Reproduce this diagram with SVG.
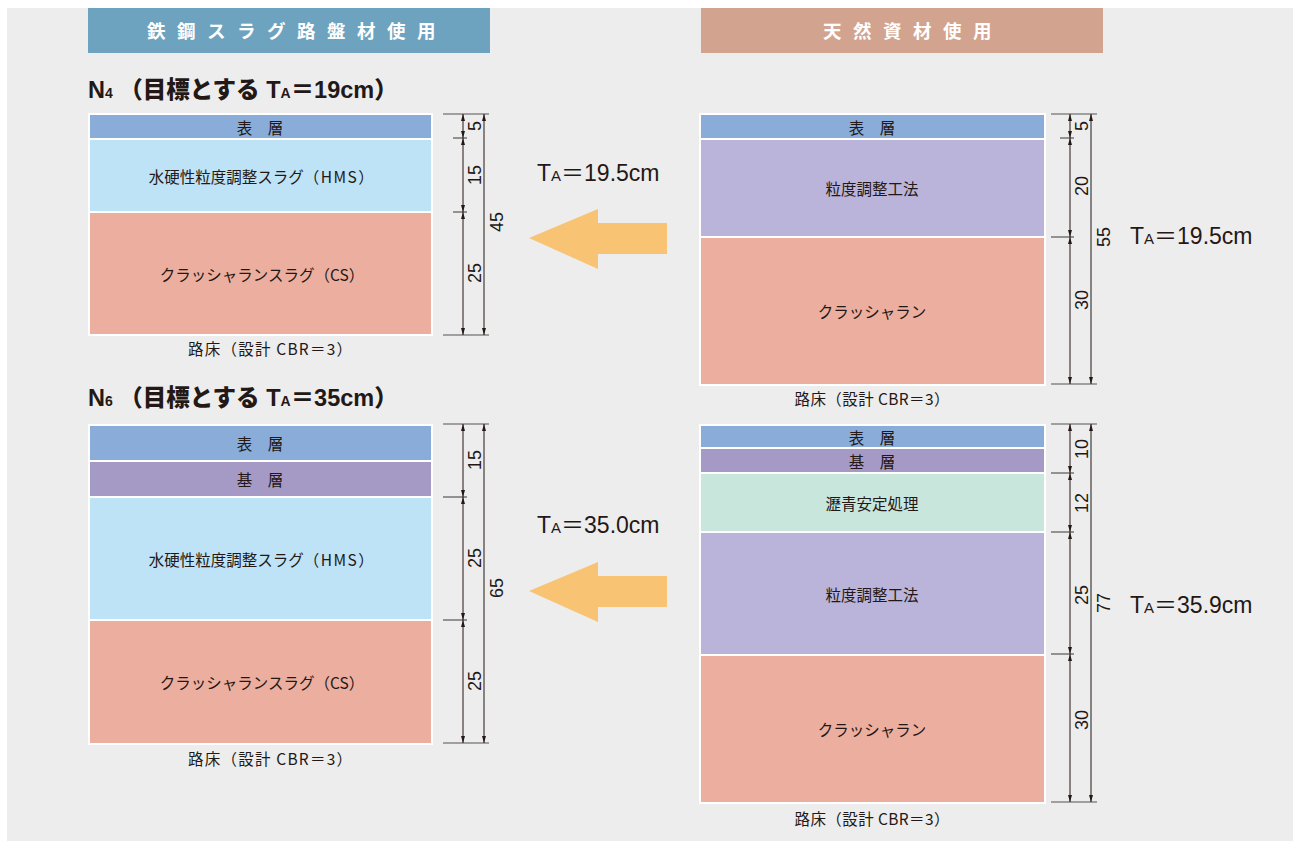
<svg xmlns="http://www.w3.org/2000/svg" width="1293" height="841" viewBox="0 0 1293 841">
<defs>
<marker id="ah" viewBox="0 0 7 4" refX="7" refY="2" markerWidth="7" markerHeight="4" markerUnits="userSpaceOnUse" orient="auto-start-reverse"><path d="M0,0 L7,2 L0,4 z" fill="#231815"/></marker>
<style>
.hd{font-family:"Noto Sans CJK JP",sans-serif;font-weight:700;font-size:18.5px;fill:#fff;letter-spacing:11.5px}
.tt{font-family:"Liberation Sans","Noto Sans CJK JP",sans-serif;font-weight:900;font-size:23.5px;fill:#231815}
.lb{font-family:"Noto Sans CJK JP",sans-serif;font-size:15.5px;fill:#231815;text-anchor:middle;dominant-baseline:central}
.ft{font-family:"Noto Sans CJK JP",sans-serif;font-size:15.5px;fill:#231815;text-anchor:middle}
.ta{font-family:"Liberation Sans","Noto Sans CJK JP",sans-serif;font-size:23px;fill:#231815}
.dn{font-family:"Liberation Sans",sans-serif;font-size:18px;fill:#231815;text-anchor:middle;dominant-baseline:central}
.dl{stroke:#231815;stroke-width:1;fill:none;marker-start:url(#ah);marker-end:url(#ah)}
.ex{stroke:#555;stroke-width:1.2;fill:none}
.box{fill:#fff}
.hy{fill:#8aacd9}.ki{fill:#a59ac5}.hms{fill:#bee3f7}.cs{fill:#ecae9f}.ryu{fill:#bab4da}.rk{fill:#c9e6dd}
.arr{fill:#f8c373}
</style>
</defs>
<rect x="0" y="0" width="1293" height="841" fill="#ffffff"/>
<rect x="7" y="8" width="1286" height="833" fill="#ededed"/>

<g id="header-left"><rect x="88" y="8" width="402" height="45" fill="#6ea3bf"/><text class="hd" x="147" y="38">鉄鋼スラグ路盤材使用</text></g>
<g id="header-right"><rect x="701" y="8" width="402" height="45" fill="#d2a38e"/><text class="hd" x="823" y="38">天然資材使用</text></g>

<g id="title-n4"><text class="tt" x="88" y="98">N<tspan font-size="14">4</tspan> （目標とする T<tspan font-size="14">A</tspan>＝19cm）</text></g>
<g id="title-n6"><text class="tt" x="88" y="406">N<tspan font-size="14">6</tspan> （目標とする T<tspan font-size="14">A</tspan>＝35cm）</text></g>

<g id="stack-n4-slag">
<rect class="box" x="88" y="113" width="345" height="223"/>
<rect class="hy" x="90" y="115" width="341" height="23"/><text class="lb" x="260" y="126.5">表　層</text>
<rect class="hms" x="90" y="140" width="341" height="71"/><text class="lb" x="262" y="175.5">水硬性粒度調整スラグ<tspan letter-spacing="1.5">（HMS）</tspan></text>
<rect class="cs" x="90" y="213" width="341" height="121"/><text class="lb" x="262" y="273.5">クラッシャランスラグ（CS）</text>
<text class="ft" x="270" y="355" textLength="164" lengthAdjust="spacing">路床（設計 CBR＝3）</text>
</g>

<g id="stack-n4-natural">
<rect class="box" x="699" y="113" width="347" height="273"/>
<rect class="hy" x="701" y="115" width="343" height="23"/><text class="lb" x="872" y="126.5">表　層</text>
<rect class="ryu" x="701" y="140" width="343" height="96"/><text class="lb" x="872" y="188">粒度調整工法</text>
<rect class="cs" x="701" y="238" width="343" height="146"/><text class="lb" x="872" y="311">クラッシャラン</text>
<text class="ft" x="872" y="405" textLength="155" lengthAdjust="spacing">路床（設計 CBR＝3）</text>
</g>

<g id="stack-n6-slag">
<rect class="box" x="88" y="424" width="345" height="321"/>
<rect class="hy" x="90" y="426" width="341" height="34"/><text class="lb" x="260" y="443">表　層</text>
<rect class="ki" x="90" y="462" width="341" height="34"/><text class="lb" x="260" y="479">基　層</text>
<rect class="hms" x="90" y="498" width="341" height="121"/><text class="lb" x="262" y="558.5">水硬性粒度調整スラグ<tspan letter-spacing="1.5">（HMS）</tspan></text>
<rect class="cs" x="90" y="621" width="341" height="122"/><text class="lb" x="262" y="682">クラッシャランスラグ（CS）</text>
<text class="ft" x="270" y="765" textLength="164" lengthAdjust="spacing">路床（設計 CBR＝3）</text>
</g>

<g id="stack-n6-natural">
<rect class="box" x="699" y="424" width="347" height="380"/>
<rect class="hy" x="701" y="426" width="343" height="21"/><text class="lb" x="872" y="436.5">表　層</text>
<rect class="ki" x="701" y="449" width="343" height="23"/><text class="lb" x="872" y="460.5">基　層</text>
<rect class="rk" x="701" y="474" width="343" height="57"/><text class="lb" x="872" y="502.5">瀝青安定処理</text>
<rect class="ryu" x="701" y="533" width="343" height="121"/><text class="lb" x="872" y="593.5">粒度調整工法</text>
<rect class="cs" x="701" y="656" width="343" height="146"/><text class="lb" x="872" y="729">クラッシャラン</text>
<text class="ft" x="872" y="825" textLength="155" lengthAdjust="spacing">路床（設計 CBR＝3）</text>
</g>

<g id="ta-labels">
<text class="ta" x="537" y="181">T<tspan font-size="15">A</tspan>＝19.5cm</text>
<text class="ta" x="1130" y="244">T<tspan font-size="15">A</tspan>＝19.5cm</text>
<text class="ta" x="537" y="533">T<tspan font-size="15">A</tspan>＝35.0cm</text>
<text class="ta" x="1130" y="613">T<tspan font-size="15">A</tspan>＝35.9cm</text>
</g>

<g id="connectors">
<path class="arr" d="M667,223 L598,223 L598,209 L529,238 L598,269 L598,254 L667,254 Z"/>
<path class="arr" d="M667,576 L598,576 L598,562 L529,591 L598,622 L598,607 L667,607 Z"/>
</g>

<g id="dims-n4-slag">
<line class="ex" x1="443" y1="114" x2="489" y2="114"/>
<line class="ex" x1="453" y1="138" x2="467" y2="138"/>
<line class="ex" x1="453" y1="212" x2="467" y2="212"/>
<line class="ex" x1="443" y1="335" x2="489" y2="335"/>
<line class="dl" x1="463" y1="114" x2="463" y2="138"/>
<line class="dl" x1="463" y1="138" x2="463" y2="212"/>
<line class="dl" x1="463" y1="212" x2="463" y2="335"/>
<line class="dl" x1="484" y1="114" x2="484" y2="335"/>
<text class="dn" transform="rotate(-90 475 126)" x="475" y="126">5</text>
<text class="dn" transform="rotate(-90 475 175)" x="475" y="175">15</text>
<text class="dn" transform="rotate(-90 475 273)" x="475" y="273">25</text>
<text class="dn" transform="rotate(-90 497 222)" x="497" y="222">45</text>
</g>

<g id="dims-n4-natural">
<line class="ex" x1="1051" y1="114" x2="1097" y2="114"/>
<line class="ex" x1="1060" y1="138" x2="1074" y2="138"/>
<line class="ex" x1="1051" y1="237" x2="1074" y2="237"/>
<line class="ex" x1="1051" y1="384" x2="1097" y2="384"/>
<line class="dl" x1="1070" y1="114" x2="1070" y2="138"/>
<line class="dl" x1="1070" y1="138" x2="1070" y2="237"/>
<line class="dl" x1="1070" y1="237" x2="1070" y2="384"/>
<line class="dl" x1="1091" y1="114" x2="1091" y2="384"/>
<text class="dn" transform="rotate(-90 1082 126)" x="1082" y="126">5</text>
<text class="dn" transform="rotate(-90 1082 186)" x="1082" y="186">20</text>
<text class="dn" transform="rotate(-90 1082 300)" x="1082" y="300">30</text>
<text class="dn" transform="rotate(-90 1104 237)" x="1104" y="237">55</text>
</g>

<g id="dims-n6-slag">
<line class="ex" x1="443" y1="424" x2="489" y2="424"/>
<line class="ex" x1="443" y1="497" x2="467" y2="497"/>
<line class="ex" x1="443" y1="620" x2="467" y2="620"/>
<line class="ex" x1="443" y1="743" x2="489" y2="743"/>
<line class="dl" x1="463" y1="424" x2="463" y2="497"/>
<line class="dl" x1="463" y1="497" x2="463" y2="620"/>
<line class="dl" x1="463" y1="620" x2="463" y2="743"/>
<line class="dl" x1="484" y1="424" x2="484" y2="743"/>
<text class="dn" transform="rotate(-90 475 460)" x="475" y="460">15</text>
<text class="dn" transform="rotate(-90 475 558)" x="475" y="558">25</text>
<text class="dn" transform="rotate(-90 475 681)" x="475" y="681">25</text>
<text class="dn" transform="rotate(-90 497 588)" x="497" y="588">65</text>
</g>

<g id="dims-n6-natural">
<line class="ex" x1="1051" y1="424" x2="1097" y2="424"/>
<line class="ex" x1="1051" y1="473" x2="1074" y2="473"/>
<line class="ex" x1="1051" y1="532" x2="1074" y2="532"/>
<line class="ex" x1="1051" y1="654" x2="1074" y2="654"/>
<line class="ex" x1="1051" y1="802" x2="1097" y2="802"/>
<line class="dl" x1="1070" y1="424" x2="1070" y2="473"/>
<line class="dl" x1="1070" y1="473" x2="1070" y2="532"/>
<line class="dl" x1="1070" y1="532" x2="1070" y2="654"/>
<line class="dl" x1="1070" y1="654" x2="1070" y2="802"/>
<line class="dl" x1="1091" y1="424" x2="1091" y2="802"/>
<text class="dn" transform="rotate(-90 1082 449)" x="1082" y="449">10</text>
<text class="dn" transform="rotate(-90 1082 503)" x="1082" y="503">12</text>
<text class="dn" transform="rotate(-90 1082 595)" x="1082" y="595">25</text>
<text class="dn" transform="rotate(-90 1082 720)" x="1082" y="720">30</text>
<text class="dn" transform="rotate(-90 1104 603)" x="1104" y="603">77</text>
</g>
</svg>
